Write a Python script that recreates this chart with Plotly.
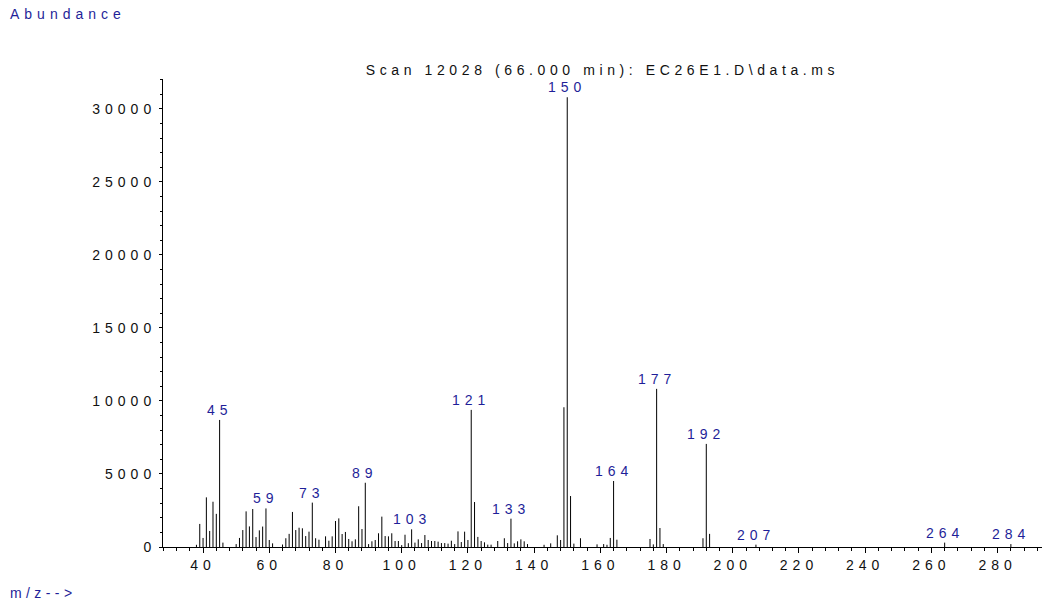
import plotly.graph_objects as go

# Mass spectrum: m/z values and their abundances
mz = [38, 39, 40, 41, 42, 43, 44, 45, 46,
      50, 51, 52, 53, 54, 55, 56, 57, 58, 59, 60, 61,
      64, 65, 66, 67, 68, 69, 70, 71, 72, 73, 74, 75,
      77, 78, 79, 80, 81, 82, 83, 84, 85, 86, 87, 88, 89,
      90, 91, 92, 93, 94, 95, 96, 97, 98, 99, 100, 101, 102,
      103, 104, 105, 106, 107, 108, 109, 110, 111, 112, 113, 114, 115, 116, 117, 118, 119, 120,
      121, 122, 123, 124, 125, 126, 127, 129, 131, 132, 133, 134, 135, 136, 137, 138,
      143, 145, 147, 148, 149, 150, 151, 152, 154, 159, 161, 162, 163, 164, 165,
      175, 176, 177, 178, 179, 191, 192, 193, 207, 264, 284]
abundance = [150, 1580, 620, 3400, 1100, 3100, 2270, 8700, 300,
             200, 620, 1160, 2440, 1410, 2600, 680, 1140, 1400, 2640, 480, 250,
             170, 600, 900, 2400, 1160, 1320, 1280, 750, 1050, 3040, 600, 500,
             730, 430, 730, 1780, 1960, 890, 1030, 550, 390, 525, 2790, 1230, 4400,
             200, 390, 480, 940, 2080, 750, 730, 940, 410, 410, 130, 840, 260,
             1210, 300, 525, 270, 820, 480, 410, 410, 365, 270, 270, 230, 430, 200, 1070, 340, 1050, 480,
             9390, 3080, 690, 410, 320, 160, 160, 410, 600, 270, 1940, 250, 390, 525, 390, 200,
             150, 250, 800, 480, 9570, 30800, 3490, 230, 600, 180, 200, 150, 620, 4520, 500,
             550, 180, 10830, 1300, 200, 600, 7060, 900, 160, 300, 200]

# Peaks that carry an m/z label
labelled_mz = [45, 59, 73, 89, 103, 121, 133, 150, 164, 177, 192, 207, 264, 284]

x_ticks = list(range(40, 281, 20))
y_ticks = list(range(0, 30001, 5000))

TITLE = "Scan 12028 (66.000 min): EC26E1.D\\data.ms"
FONT = "Liberation Sans, Arial, sans-serif"
NAVY = "#1f1f99"
LS = 5  # letter spacing in px


def spaced(s, ls=LS):
    return f'<span style="letter-spacing:{ls}px">{s}</span>'


# stick spectrum: one vertical segment per m/z
xs, ys = [], []
for m, a in zip(mz, abundance):
    xs += [m, m, None]
    ys += [0, a, None]

fig = go.Figure()
fig.add_trace(go.Scatter(x=xs, y=ys, mode="lines",
                         line=dict(color="black", width=1),
                         hoverinfo="skip", showlegend=False))

lookup = dict(zip(mz, abundance))
for m in labelled_mz:
    fig.add_annotation(x=m, y=lookup[m], text=spaced(str(m)),
                       showarrow=False, xanchor="center", yanchor="bottom",
                       xshift=0, yshift=0,
                       font=dict(family=FONT, size=14, color=NAVY))

# axis captions
fig.add_annotation(xref="paper", yref="paper", x=-0.1763, y=1.1388,
                   text=spaced("Abundance"), showarrow=False,
                   xanchor="left", yanchor="middle",
                   font=dict(family=FONT, size=14, color=NAVY))
fig.add_annotation(xref="paper", yref="paper", x=-0.176, y=-0.0976,
                   text=spaced("m/z--&gt;", 4.4), showarrow=False,
                   xanchor="left", yanchor="middle",
                   font=dict(family=FONT, size=14, color=NAVY))

fig.update_layout(
    width=1044, height=603,
    margin=dict(l=163, r=2, t=79, b=56),
    paper_bgcolor="white", plot_bgcolor="white",
    font=dict(family=FONT, size=14, color="#111"),
    title=dict(text=spaced(TITLE, 4.6), x=0.5, xref="paper",
               y=1 - 70 / 603, yref="container", yanchor="middle", xanchor="center",
               font=dict(family=FONT, size=14, color="#111")),
    xaxis=dict(range=[27.9, 293.4], showgrid=False, zeroline=False,
               showline=True, linecolor="black", linewidth=1,
               tickmode="array", tickvals=x_ticks,
               ticktext=[spaced(str(v)) for v in x_ticks],
               ticks="outside", ticklen=5, tickcolor="black", tickwidth=1,
               minor=dict(dtick=4, tick0=0, ticks="outside", ticklen=3,
                          tickcolor="black", tickwidth=1, showgrid=False),
               tickfont=dict(family=FONT, size=14, color="#111")),
    yaxis=dict(range=[0, 32050], showgrid=False, zeroline=False,
               showline=True, linecolor="black", linewidth=1,
               tickmode="array", tickvals=y_ticks,
               ticktext=[spaced(str(v)) for v in y_ticks],
               ticks="outside", ticklen=3, tickcolor="black", tickwidth=1,
               minor=dict(dtick=1000, tick0=0, ticks="outside", ticklen=2,
                          tickcolor="black", tickwidth=1, showgrid=False),
               tickfont=dict(family=FONT, size=14, color="#111")),
)

fig.write_html("out.html")
